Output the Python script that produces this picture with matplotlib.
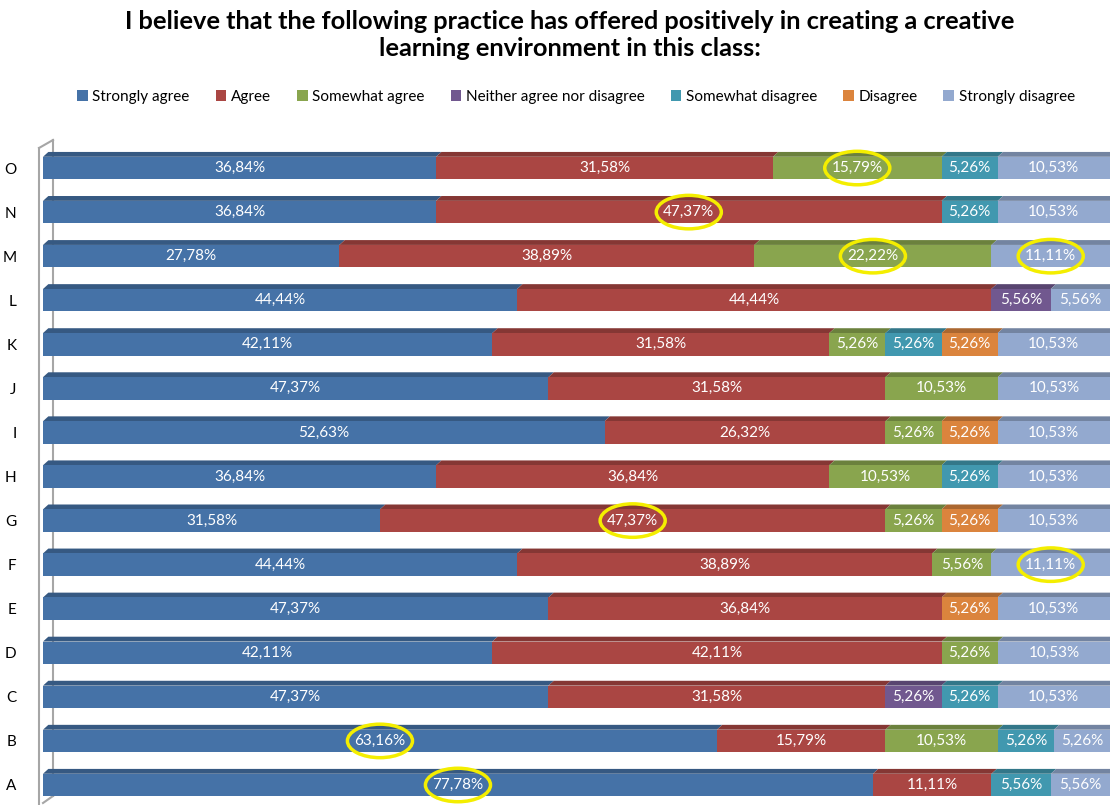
import matplotlib.pyplot as plt
from matplotlib.patches import Polygon, Ellipse, Patch
from matplotlib.lines import Line2D
import numpy as np

plt.rcParams['font.family'] = ['Lato', 'DejaVu Sans']

# categories from bottom (A) to top (O)
categories = ['A', 'B', 'C', 'D', 'E', 'F', 'G', 'H', 'I', 'J', 'K', 'L', 'M', 'N', 'O']
series = ['Strongly agree', 'Agree', 'Somewhat agree', 'Neither agree nor disagree',
          'Somewhat disagree', 'Disagree', 'Strongly disagree']
colors = ['#4572A7', '#AA4643', '#89A54E', '#71588F', '#4198AF', '#DB843D', '#93A9CF']

strongly_agree    = [77.78, 63.16, 47.37, 42.11, 47.37, 44.44, 31.58, 36.84, 52.63, 47.37, 42.11, 44.44, 27.78, 36.84, 36.84]
agree             = [11.11, 15.79, 31.58, 42.11, 36.84, 38.89, 47.37, 36.84, 26.32, 31.58, 31.58, 44.44, 38.89, 47.37, 31.58]
somewhat_agree    = [0, 10.53, 0, 5.26, 0, 5.56, 5.26, 10.53, 5.26, 10.53, 5.26, 0, 22.22, 0, 15.79]
neither           = [0, 0, 5.26, 0, 0, 0, 0, 0, 0, 0, 0, 5.56, 0, 0, 0]
somewhat_disagree = [5.56, 5.26, 5.26, 0, 0, 0, 0, 5.26, 0, 0, 5.26, 0, 0, 5.26, 5.26]
disagree          = [0, 0, 0, 0, 5.26, 0, 5.26, 0, 5.26, 0, 5.26, 0, 0, 0, 0]
strongly_disagree = [5.56, 5.26, 10.53, 10.53, 10.53, 11.11, 10.53, 10.53, 10.53, 10.53, 10.53, 5.56, 11.11, 10.53, 10.53]

values = [strongly_agree, agree, somewhat_agree, neither, somewhat_disagree, disagree, strongly_disagree]

# highlighted labels (category, series index)
highlights = [('A', 0), ('B', 0), ('F', 6), ('G', 1), ('M', 2), ('M', 6), ('N', 1), ('O', 2)]

W, H = 1117, 805
fig = plt.figure(figsize=(W / 100, H / 100), dpi=100)
ax = fig.add_axes([43 / W, 0, 1067 / W, 665 / H])
ax.patch.set_visible(False)
ax.set_xlim(0, 100)
ax.set_ylim(-0.454, 14.636)

bar_h = 0.51
dx, dy = 0.5, 0.11


def shade(c, f=0.78):
    r, g, b = [int(c[i:i + 2], 16) / 255 for i in (1, 3, 5)]
    return (r * f, g * f, b * f)


ypos = np.arange(len(categories))
lefts = np.zeros(len(categories))
centers = {}
for s, (name, vals, col) in enumerate(zip(series, values, colors)):
    vals = np.array(vals, dtype=float)
    ax.barh(ypos, vals, left=lefts, height=bar_h, color=col, linewidth=0, zorder=3)
    for i, v in enumerate(vals):
        if v <= 0:
            continue
        x0 = lefts[i]
        yt = ypos[i] + bar_h / 2
        top = Polygon([(x0, yt), (x0 + v, yt), (x0 + v + dx, yt + dy), (x0 + dx, yt + dy)],
                      closed=True, facecolor=shade(col), edgecolor='none', zorder=2)
        ax.add_patch(top)
        cx = x0 + v / 2
        centers[(categories[i], s)] = cx
        ax.text(cx, ypos[i], f"{v:.2f}%".replace('.', ','), ha='center', va='center',
                color='white', fontsize=11, zorder=5)
    lefts = lefts + vals

# right side face of each bar
for i, y in enumerate(ypos):
    x1 = lefts[i]
    yb, yt = y - bar_h / 2, y + bar_h / 2
    side = Polygon([(x1, yb), (x1, yt), (x1 + dx, yt + dy), (x1 + dx, yb + dy)],
                   closed=True, facecolor=shade(colors[-1], 0.65), edgecolor='none', zorder=2)
    ax.add_patch(side)

# yellow circles
for cat, s in highlights:
    i = categories.index(cat)
    e = Ellipse((centers[(cat, s)], ypos[i]), 6.1, 0.76, facecolor='none',
                edgecolor='#F4EE00', linewidth=2.5, zorder=6)
    ax.add_patch(e)

ax.set_yticks(ypos)
ax.set_yticklabels(categories, fontsize=11)
ax.tick_params(axis='y', length=0, pad=19)
ax.set_xticks([])
for sp in ax.spines.values():
    sp.set_visible(False)

# left wall
wall = dict(color='#A6A6A6', linewidth=1.5, transform=fig.transFigure, zorder=0)
fig.add_artist(Line2D([39 / W, 39 / W], [1 - 148 / H, 0], **wall))
fig.add_artist(Line2D([39 / W, 53 / W], [1 - 148 / H, 1 - 140 / H], **wall))
fig.add_artist(Line2D([53 / W, 53 / W], [1 - 140 / H, 1 - 796 / H], **wall))
fig.add_artist(Line2D([53 / W, 43 / W], [1 - 796 / H, 1 - 803 / H], **wall))

# title
fig.text(570 / W, 1 - 35 / H,
         'I believe that the following practice has offered positively in creating a creative\nlearning environment in this class:',
         ha='center', va='center', fontsize=18.3, fontweight='bold', linespacing=1.2)

# legend
handles = [Patch(facecolor=c, edgecolor='none', label=n) for n, c in zip(series, colors)]
fig.legend(handles=handles, loc='center', bbox_to_anchor=(576 / W, 1 - 97 / H), ncol=7,
           frameon=False, fontsize=11, handlelength=0.7, handleheight=0.7,
           handletextpad=0.3, columnspacing=1.7)

plt.savefig('out.png', dpi=100)
